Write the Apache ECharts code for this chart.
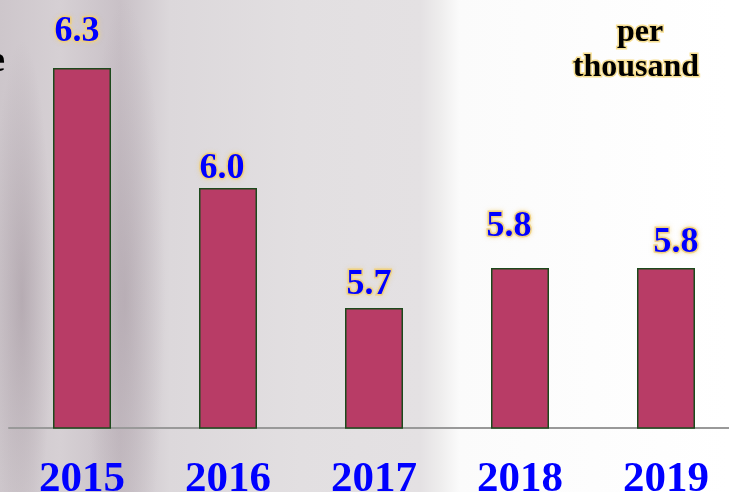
<!DOCTYPE html>
<html>
<head>
<meta charset="utf-8">
<script src="https://cdn.jsdelivr.net/npm/echarts@6/dist/echarts.min.js"></script>
<style>
html,body{margin:0;padding:0;width:729px;height:492px;overflow:hidden;}
#bg{position:absolute;left:0;top:0;width:729px;height:492px;
background:
 radial-gradient(ellipse 30px 260px at 22px 300px, rgba(150,135,145,0.45), rgba(150,135,145,0) 100%),
 radial-gradient(ellipse 40px 300px at 125px 300px, rgba(150,135,145,0.35), rgba(150,135,145,0) 100%),
 linear-gradient(to right, #cdc6cb 0px, #d6d0d4 60px, #c9c1c7 120px, #dcd8db 170px, #e2dfe1 300px, #e4e1e3 420px, #eeeded 440px, #fbfbfb 460px, #ffffff 729px);}
#c{position:absolute;left:0;top:0;width:729px;height:492px;}
</style>
</head>
<body>
<div id="bg"></div>
<div id="c"></div>
<script>
const categories = ['2015', '2016', '2017', '2018', '2019'];
const values = [6.3, 6.0, 5.7, 5.8, 5.8];
const valueLabels = ['6.3', '6.0', '5.7', '5.8', '5.8'];
const unitLines = ['per', 'thousand'];

// label nudges (style only)
const labelOffsets = [[-5, -18], [-6, -1], [-5, -5], [-11, -23], [10, -7]];

const chart = echarts.init(document.getElementById('c'), null, {renderer: 'canvas'});
const serif = '"Liberation Serif", "Times New Roman", serif';
const glow = {stroke: 'rgba(245,215,120,0.8)', lineWidth: 3};

chart.setOption({
  backgroundColor: 'transparent',
  animation: false,
  grid: {left: 9, width: 730, top: 68, bottom: 64, containLabel: false, outerBoundsMode: 'none'},
  xAxis: {
    type: 'category',
    data: categories,
    axisLine: {show: true, lineStyle: {color: '#999999', width: 2}},
    axisTick: {show: false},
    axisLabel: {color: '#0000ff', fontFamily: serif, fontWeight: 'bold', fontSize: 43, margin: 30}
  },
  yAxis: {
    type: 'value', min: 5.4, max: 6.3,
    show: false, splitLine: {show: false}
  },
  series: [{
    type: 'bar',
    barWidth: 58,
    data: values.map((v, i) => ({
      value: v,
      label: {offset: labelOffsets[i]}
    })),
    itemStyle: {color: '#b83c66', borderColor: '#1c4a1c', borderWidth: 1.5},
    label: {
      show: true, position: 'top', distance: 0,
      formatter: p => valueLabels[p.dataIndex],
      color: '#0000ff', fontFamily: serif, fontWeight: 'bold', fontSize: 36,
      textBorderColor: 'rgba(240,205,120,0.85)', textBorderWidth: 3,
      textShadowColor: 'rgba(240,210,120,0.6)', textShadowBlur: 4
    }
  }],
  graphic: [
    {type: 'text', left: -11, top: 44, style: {text: 'e', font: 'bold 36px ' + serif, fill: '#000'}},
    {type: 'text', x: 640, y: 17, z: 10, style: Object.assign({text: unitLines[0], font: 'bold 32px ' + serif, fill: '#000', textAlign: 'center', verticalAlign: 'top'}, glow)},
    {type: 'text', x: 636, y: 52, z: 10, style: Object.assign({text: unitLines[1], font: 'bold 32px ' + serif, fill: '#000', textAlign: 'center', verticalAlign: 'top'}, glow)}
  ]
});
</script>
</body>
</html>
